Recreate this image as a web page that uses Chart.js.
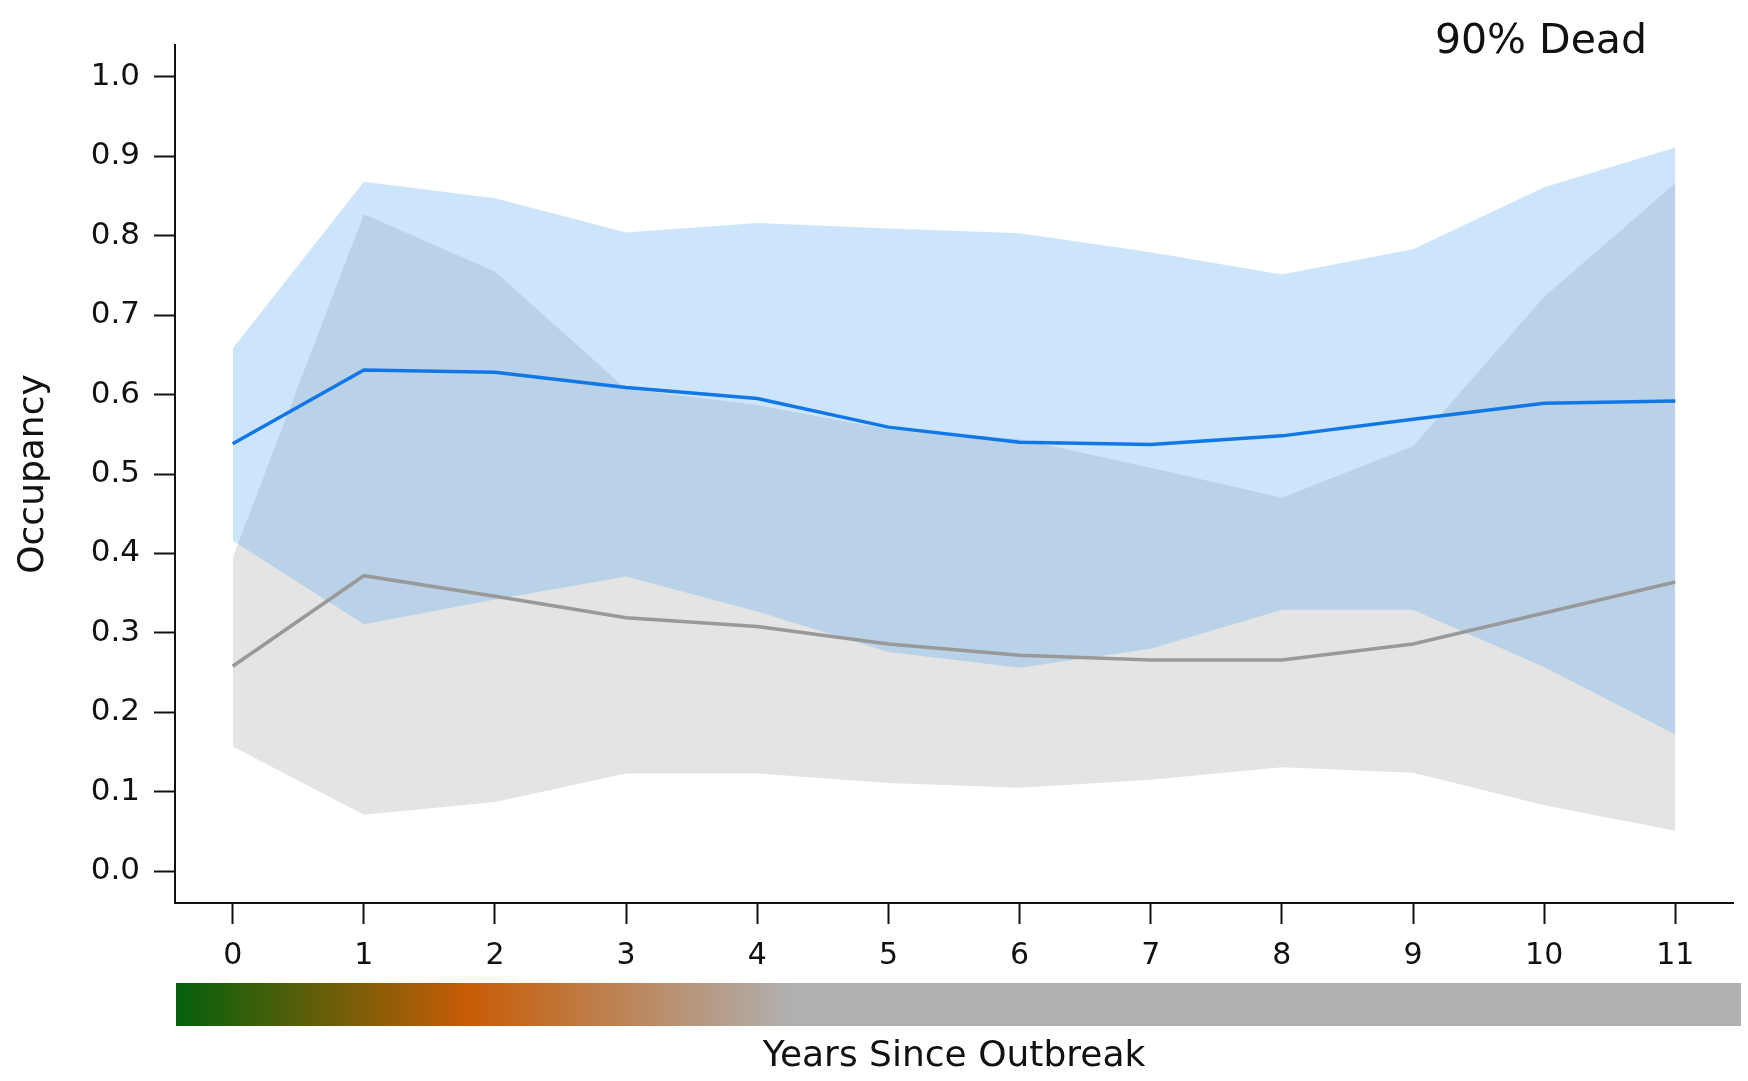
<!DOCTYPE html>
<html>
<head>
<meta charset="utf-8">
<script src="https://cdn.jsdelivr.net/npm/chart.js@4.4.1/dist/chart.umd.min.js"></script>
<style>
  html, body { margin: 0; padding: 0; background: #fff; }
  canvas { display: block; }
</style>
</head>
<body>
<canvas id="occChart" width="1748" height="1081"></canvas>
<script>
// years since outbreak
const years = [0, 1, 2, 3, 4, 5, 6, 7, 8, 9, 10, 11];
const yTicks = [0.0, 0.1, 0.2, 0.3, 0.4, 0.5, 0.6, 0.7, 0.8, 0.9, 1.0];

// blue series: mean and interval
const blueMean  = [0.538, 0.631, 0.628, 0.609, 0.595, 0.559, 0.540, 0.537, 0.548, 0.569, 0.589, 0.592];
const blueUpper = [0.658, 0.868, 0.847, 0.804, 0.816, 0.809, 0.803, 0.779, 0.751, 0.783, 0.861, 0.911];
const blueLower = [0.416, 0.311, 0.342, 0.371, 0.327, 0.276, 0.256, 0.280, 0.329, 0.329, 0.257, 0.172];

// grey series: mean and interval
const greyMean  = [0.258, 0.372, 0.346, 0.319, 0.308, 0.286, 0.272, 0.266, 0.266, 0.286, 0.325, 0.364];
const greyUpper = [0.395, 0.827, 0.755, 0.607, 0.587, 0.556, 0.544, 0.508, 0.470, 0.535, 0.723, 0.866];
const greyLower = [0.157, 0.071, 0.087, 0.123, 0.123, 0.111, 0.105, 0.115, 0.131, 0.124, 0.083, 0.051];

// colour bar under the x axis (stops in years)
const barStops  = [-0.44, 1.8, 4.26];
const barColors = ['#04600c', '#c85c06', '#b0b0b0'];

const pts = (ys) => years.map((x, i) => ({ x: x, y: ys[i] }));
const none = 'rgba(0,0,0,0)';

const outbreakBar = {
  id: 'outbreakBar',
  afterDraw(chart) {
    const { ctx, chartArea, scales } = chart;
    const left = chartArea.left + 1;
    const right = chart.width - 7;
    const top = chartArea.bottom + 80;
    const grad = ctx.createLinearGradient(left, 0, right, 0);
    barStops.forEach((v, i) => {
      const px = scales.x.getPixelForValue(v);
      grad.addColorStop(Math.min(1, Math.max(0, (px - left) / (right - left))), barColors[i]);
    });
    ctx.save();
    ctx.fillStyle = grad;
    ctx.fillRect(left, top, right - left, 43);
    ctx.restore();
  }
};

const cornerLabel = {
  id: 'cornerLabel',
  afterDraw(chart) {
    const ctx = chart.ctx;
    ctx.save();
    ctx.font = '41px "DejaVu Sans"';
    ctx.fillStyle = '#111';
    ctx.textAlign = 'right';
    ctx.textBaseline = 'alphabetic';
    ctx.fillText('90% Dead', chart.chartArea.right - 86, 53);
    ctx.restore();
  }
};

const axisStyle = {
  grid: { drawOnChartArea: false, drawTicks: true, tickLength: 21, tickWidth: 2, tickColor: '#111' },
  border: { display: true, color: '#111', width: 2 }
};

new Chart(document.getElementById('occChart').getContext('2d'), {
  type: 'line',
  data: {
    datasets: [
      { data: pts(greyUpper), fill: '+1', backgroundColor: '#e4e4e4', borderColor: none, borderWidth: 0, pointRadius: 0, order: 6 },
      { data: pts(greyLower), fill: false, borderColor: none, borderWidth: 0, pointRadius: 0, order: 5 },
      { data: pts(blueUpper), fill: '+1', backgroundColor: 'rgba(85,168,241,0.3)', borderColor: none, borderWidth: 0, pointRadius: 0, order: 4 },
      { data: pts(blueLower), fill: false, borderColor: none, borderWidth: 0, pointRadius: 0, order: 3 },
      { data: pts(greyMean), fill: false, borderColor: '#999999', borderWidth: 3.5, pointRadius: 0, order: 1 },
      { data: pts(blueMean), fill: false, borderColor: '#1177e6', borderWidth: 3.5, pointRadius: 0, order: 0 }
    ]
  },
  options: {
    responsive: false,
    animation: false,
    devicePixelRatio: 1,
    layout: { padding: { top: 45, right: 15, left: 0, bottom: 0 } },
    plugins: { legend: { display: false }, tooltip: { enabled: false } },
    scales: {
      x: {
        type: 'linear',
        min: -0.44,
        max: 11.44,
        ...axisStyle,
        afterBuildTicks: (axis) => { axis.ticks = years.map(v => ({ value: v })); },
        afterFit: (axis) => { axis.height = 178; },
        ticks: { autoSkip: false, maxRotation: 0, padding: 14, color: '#111', font: { family: 'DejaVu Sans', size: 30 } },
        title: { display: true, text: 'Years Since Outbreak', color: '#111', font: { family: 'DejaVu Sans', size: 36 }, padding: { top: 0, bottom: 3 } }
      },
      y: {
        type: 'linear',
        min: -0.04,
        max: 1.04,
        ...axisStyle,
        afterBuildTicks: (axis) => { axis.ticks = yTicks.map(v => ({ value: v })); },
        afterFit: (axis) => { axis.width = 175; },
        ticks: { autoSkip: false, padding: 14, color: '#111', font: { family: 'DejaVu Sans', size: 31 }, callback: (v) => Number(v).toFixed(1) },
        title: { display: true, text: 'Occupancy', color: '#111', font: { family: 'DejaVu Sans', size: 36 }, padding: { top: 12, bottom: 0 } }
      }
    }
  },
  plugins: [outbreakBar, cornerLabel]
});
</script>
</body>
</html>
